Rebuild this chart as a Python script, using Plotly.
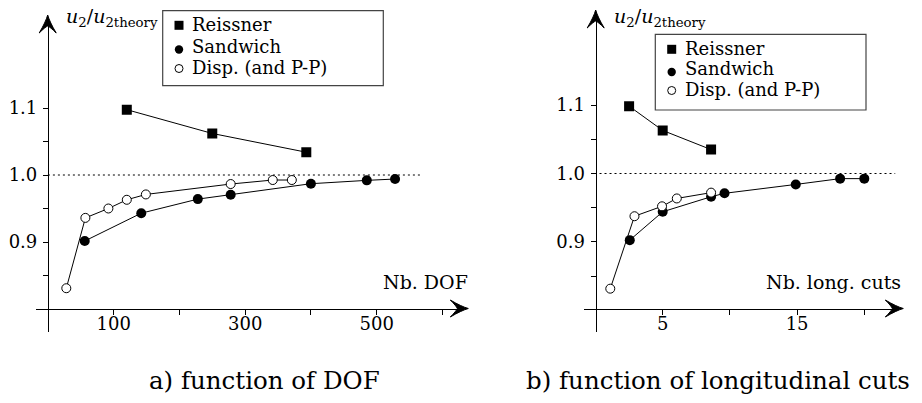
import plotly.graph_objects as go

# ---------------- data ----------------
series_names = ["Reissner", "Sandwich", "Disp. (and P-P)"]

# a) function of DOF
dof_reissner = [120, 250, 393]
u_reissner_dof = [1.0975, 1.062, 1.034]
dof_sandwich = [56, 142, 228, 278, 400, 485, 528]
u_sandwich_dof = [0.9015, 0.943, 0.964, 0.9705, 0.987, 0.992, 0.994]
dof_disp = [28, 57, 92, 120, 149, 278, 342, 371]
u_disp_dof = [0.831, 0.936, 0.950, 0.963, 0.971, 0.9865, 0.9925, 0.9925]

# b) function of longitudinal cuts
cuts_reissner = [2.5, 5.0, 8.6]
u_reissner_cuts = [1.0985, 1.063, 1.035]
cuts_sandwich = [2.55, 5.0, 8.6, 9.6, 14.9, 18.2, 20.0]
u_sandwich_cuts = [0.9025, 0.944, 0.966, 0.971, 0.984, 0.9925, 0.9925]
cuts_disp = [1.1, 2.9, 4.95, 6.05, 8.6]
u_disp_cuts = [0.8315, 0.9375, 0.952, 0.9635, 0.972]

theory_level = 1.0

y_tickvals = [0.9, 1.0, 1.1]
y_ticktext = ["0.9", "1.0", "1.1"]
y_minorvals = [0.85, 0.95, 1.05]
dof_tickvals = [100, 300, 500]
dof_ticktext = ["100", "300", "500"]
dof_minorvals = [200, 400, 600]
cuts_tickvals = [5, 15]
cuts_ticktext = ["5", "15"]
cuts_minorvals = [10, 20]

y_label = "<i>u</i><sub>2</sub>/<i>u</i><sub>2theory</sub>"
x_label_a = "Nb. DOF"
x_label_b = "Nb. long. cuts"
caption_a = "a) function of DOF"
caption_b = "b) function of longitudinal cuts"

# ---------------- layout geometry (pixels) ----------------
W, H = 922, 403
FONT = "DejaVu Serif"


def fx(px):
    return px / W


def fy(py):
    return 1 - py / H


# left panel: data x=0 at px 47.9, 0.6575 px/unit; y=1.0 at py 175, 670 px/unit
L_x0, L_sx = 47.9, 0.6575
L_y1, L_sy = 175.0, 670.0
L_dom_x = (36.0, 462.0)
L_dom_y = (331.7, 21.0)
# right panel
R_x0, R_sx = 595.5, 13.44
R_y1, R_sy = 173.5, 683.5
R_dom_x = (584.0, 897.0)
R_dom_y = (331.7, 16.0)
X_AXIS_PY = 308.5

L_xrange = [(L_dom_x[0] - L_x0) / L_sx, (L_dom_x[1] - L_x0) / L_sx]
L_yrange = [1 - (L_dom_y[0] - L_y1) / L_sy, 1 + (L_y1 - L_dom_y[1]) / L_sy]
R_xrange = [(R_dom_x[0] - R_x0) / R_sx, (R_dom_x[1] - R_x0) / R_sx]
R_yrange = [1 - (R_dom_y[0] - R_y1) / R_sy, 1 + (R_y1 - R_dom_y[1]) / R_sy]

fig = go.Figure()

line_style = dict(color="black", width=1)
styles = [
    dict(symbol="square", size=10, color="black"),
    dict(symbol="circle", size=10, color="black"),
    dict(symbol="circle", size=9, color="white", line=dict(color="black", width=1)),
]

left_sets = [(dof_reissner, u_reissner_dof), (dof_sandwich, u_sandwich_dof), (dof_disp, u_disp_dof)]
right_sets = [(cuts_reissner, u_reissner_cuts), (cuts_sandwich, u_sandwich_cuts), (cuts_disp, u_disp_cuts)]

for (xs, ys), name, mk in zip(left_sets, series_names, styles):
    fig.add_trace(go.Scatter(x=xs, y=ys, name=name, mode="lines+markers",
                             line=line_style, marker=mk, showlegend=False,
                             xaxis="x", yaxis="y"))
for (xs, ys), name, mk in zip(right_sets, series_names, styles):
    fig.add_trace(go.Scatter(x=xs, y=ys, name=name, mode="lines+markers",
                             line=line_style, marker=mk, showlegend=False,
                             xaxis="x2", yaxis="y2"))

axis_common = dict(showgrid=False, zeroline=False, showline=True, linecolor="black",
                   linewidth=1, ticks="outside", ticklen=5, tickwidth=1, tickcolor="black",
                   tickfont=dict(family=FONT, size=18, color="black"), anchor="free",
                   automargin=False, fixedrange=True, tickmode="array")
minor_common = dict(ticks="outside", ticklen=5, tickwidth=1, tickcolor="black", showgrid=False)

fig.update_layout(
    width=W, height=H, margin=dict(l=0, r=0, t=0, b=0),
    paper_bgcolor="white", plot_bgcolor="rgba(0,0,0,0)", showlegend=False,
    xaxis=dict(axis_common, domain=[fx(L_dom_x[0]), fx(L_dom_x[1])], range=L_xrange,
               position=fy(X_AXIS_PY), tickvals=dof_tickvals, ticktext=dof_ticktext,
               ticklabelstandoff=-6, minor=dict(minor_common, tickvals=dof_minorvals)),
    yaxis=dict(axis_common, domain=[fy(L_dom_y[0]), fy(L_dom_y[1])], range=L_yrange,
               position=fx(L_x0), tickvals=y_tickvals, ticktext=y_ticktext,
               ticklabelstandoff=2, minor=dict(minor_common, tickvals=y_minorvals)),
    xaxis2=dict(axis_common, domain=[fx(R_dom_x[0]), fx(R_dom_x[1])], range=R_xrange,
                position=fy(X_AXIS_PY), tickvals=cuts_tickvals, ticktext=cuts_ticktext,
                ticklabelstandoff=-6, minor=dict(minor_common, tickvals=cuts_minorvals)),
    yaxis2=dict(axis_common, domain=[fy(R_dom_y[0]), fy(R_dom_y[1])], range=R_yrange,
                position=fx(R_x0), tickvals=y_tickvals, ticktext=y_ticktext,
                ticklabelstandoff=2, minor=dict(minor_common, tickvals=y_minorvals)),
)

shapes = []
# dotted theory level
shapes.append(dict(type="line", xref="x", yref="y", x0=0, x1=570, y0=theory_level, y1=theory_level,
                   line=dict(color="black", width=1, dash="2px,3px"), layer="below"))
shapes.append(dict(type="line", xref="x2", yref="y2", x0=0.3, x1=22.3, y0=theory_level, y1=theory_level,
                   line=dict(color="black", width=1, dash="2px,3px"), layer="below"))

# arrowheads (pixel sized, anchored at the tip)
right_head = "M 0 0 Q -7 2 -18 8.5 Q -12 2.5 -11 0 Q -12 -2.5 -18 -8.5 Q -7 -2 0 0 Z"
up_head = "M 0 0 Q 2 -7 8.5 -18 Q 2.5 -12 0 -11 Q -2.5 -12 -8.5 -18 Q -2 -7 0 0 Z"
for tip_x, tip_y, path in [(468.3, X_AXIS_PY, right_head), (47.7, 15.0, up_head),
                           (903.3, X_AXIS_PY, right_head), (595.7, 10.0, up_head)]:
    shapes.append(dict(type="path", xref="paper", yref="paper", xsizemode="pixel",
                       ysizemode="pixel", xanchor=fx(tip_x), yanchor=fy(tip_y), path=path,
                       fillcolor="black", line=dict(color="black", width=1)))

# legend boxes
for (x0, y0, x1, y1) in [(162.7, 10.7, 383.3, 85.7), (655.3, 34.3, 866.0, 110.0)]:
    shapes.append(dict(type="rect", xref="paper", yref="paper", x0=fx(x0), x1=fx(x1),
                       y0=fy(y1), y1=fy(y0), line=dict(color="#444444", width=1.2),
                       fillcolor="white", layer="above"))

annotations = []
legend_rows = [(179.0, 190.0, [24.3, 46.5, 67.5]), (671.7, 682.7, [48.3, 69.0, 89.5])]
for mx, tx, rows in legend_rows:
    for i, (name, ry) in enumerate(zip(series_names, rows)):
        if i == 0:
            shapes.append(dict(type="rect", xref="paper", yref="paper", xsizemode="pixel",
                               ysizemode="pixel", xanchor=fx(mx), yanchor=fy(ry + 1),
                               x0=-4.5, x1=4.5, y0=-4.5, y1=4.5, fillcolor="black",
                               line=dict(width=0), layer="above"))
        elif i == 1:
            shapes.append(dict(type="circle", xref="paper", yref="paper", xsizemode="pixel",
                               ysizemode="pixel", xanchor=fx(mx), yanchor=fy(ry + 3),
                               x0=-4.2, x1=4.2, y0=-4.2, y1=4.2, fillcolor="black",
                               line=dict(width=0), layer="above"))
        else:
            shapes.append(dict(type="circle", xref="paper", yref="paper", xsizemode="pixel",
                               ysizemode="pixel", xanchor=fx(mx), yanchor=fy(ry + 1),
                               x0=-4, x1=4, y0=-4, y1=4, fillcolor="white",
                               line=dict(color="black", width=1), layer="above"))
        annotations.append(dict(xref="paper", yref="paper", x=fx(tx), y=fy(ry), text=name,
                                xanchor="left", yanchor="middle", showarrow=False,
                                font=dict(family=FONT, size=18, color="black")))

txt = dict(xref="paper", yref="paper", showarrow=False, font=dict(family=FONT, size=19, color="black"))
annotations += [
    dict(txt, x=fx(64), y=fy(18), text=y_label, xanchor="left", yanchor="middle",
         font=dict(family=FONT, size=19, color="black")),
    dict(txt, x=fx(612), y=fy(18), text=y_label, xanchor="left", yanchor="middle",
         font=dict(family=FONT, size=19, color="black")),
    dict(txt, x=fx(381), y=fy(282), text=x_label_a, xanchor="left", yanchor="middle"),
    dict(txt, x=fx(903), y=fy(282), text=x_label_b, xanchor="right", yanchor="middle"),
    dict(txt, x=fx(264), y=fy(380), text=caption_a, xanchor="center", yanchor="middle",
         font=dict(family=FONT, size=24.5, color="black")),
    dict(txt, x=fx(718), y=fy(380), text=caption_b, xanchor="center", yanchor="middle",
         font=dict(family=FONT, size=24.5, color="black")),
]

fig.update_layout(shapes=shapes, annotations=annotations)

fig.write_html("out.html", config={"displayModeBar": False},
               post_script="document.body.style.margin='0';")
